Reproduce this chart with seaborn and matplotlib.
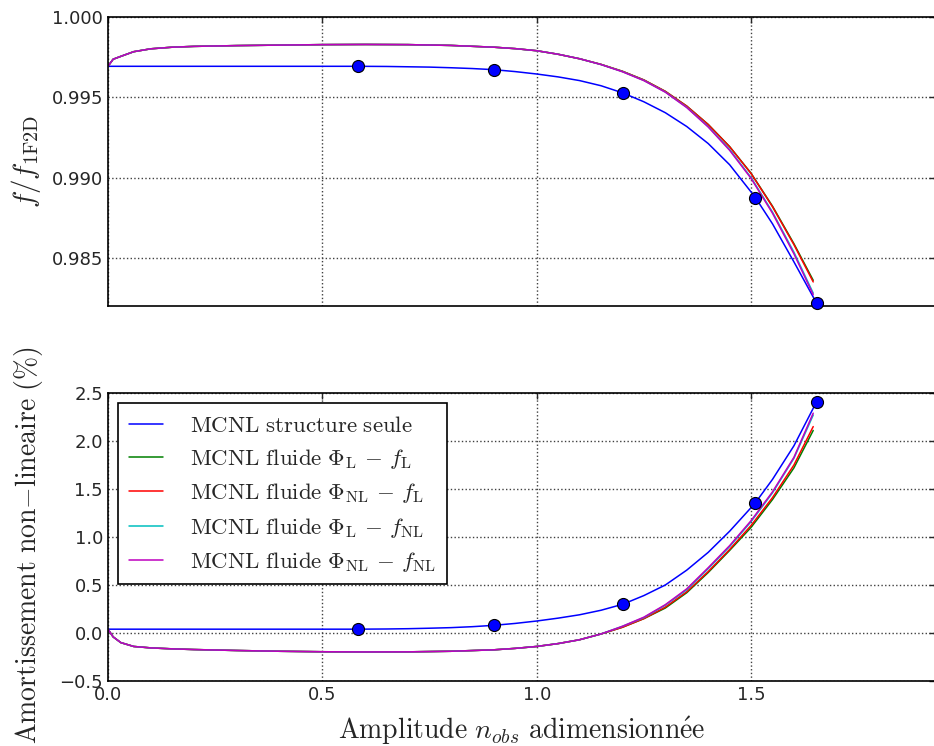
import numpy as np
import pandas as pd
import matplotlib
matplotlib.use('Agg')
import matplotlib.pyplot as plt
import seaborn as sns

sns.set_style('white')
plt.rcParams['font.family'] = ['DejaVu Sans']
plt.rcParams['mathtext.fontset'] = 'cm'
plt.rcParams['axes.linewidth'] = 1.2
plt.rcParams['xtick.direction'] = 'in'
plt.rcParams['ytick.direction'] = 'in'
plt.rcParams['xtick.top'] = True
plt.rcParams['ytick.right'] = True
plt.rcParams['xtick.major.size'] = 4
plt.rcParams['ytick.major.size'] = 4

# --- data ---
# structure seule (blue)
x_struct = [0, 0.1, 0.2, 0.3, 0.4, 0.5, 0.583, 0.65, 0.7, 0.75, 0.8, 0.85,
            0.9, 0.95, 1.0, 1.05, 1.1, 1.15, 1.201, 1.25, 1.3, 1.35, 1.4,
            1.45, 1.509, 1.55, 1.6, 1.653]
freq_struct = [0.99693, 0.99693, 0.99693, 0.99693, 0.99693, 0.99693, 0.99693,
               0.99692, 0.99690, 0.99688, 0.99684, 0.99679, 0.99672, 0.99660,
               0.99645, 0.99627, 0.99604, 0.99572, 0.99527, 0.99472, 0.99404,
               0.99318, 0.99212, 0.99080, 0.98880, 0.98712, 0.98475, 0.98217]
damp_struct = [0.04, 0.04, 0.04, 0.04, 0.04, 0.04, 0.04,
               0.042, 0.045, 0.05, 0.056, 0.066, 0.08, 0.10,
               0.125, 0.155, 0.19, 0.237, 0.30, 0.39, 0.50,
               0.655, 0.84, 1.06, 1.35, 1.60, 1.95, 2.41]

# markers on structure curve
x_pts = [0.583, 0.900, 1.201, 1.509, 1.653]
freq_pts = [0.99693, 0.99670, 0.99527, 0.98872, 0.98217]
damp_pts = [0.04, 0.08, 0.30, 1.35, 2.41]

# fluid models
x_fluid = [0, 0.012, 0.03, 0.06, 0.1, 0.15, 0.2, 0.3, 0.4, 0.5, 0.6, 0.7,
           0.8, 0.9, 0.95, 1.0, 1.05, 1.1, 1.15, 1.2, 1.25, 1.3, 1.35, 1.4,
           1.45, 1.5, 1.55, 1.6, 1.645]
freq_L_L = [0.99693, 0.99737, 0.99755, 0.99784, 0.99802, 0.99812, 0.99817,
            0.99822, 0.99825, 0.99828, 0.99829, 0.99828, 0.99823, 0.99812,
            0.99803, 0.99790, 0.99768, 0.99740, 0.99705, 0.99662, 0.99608,
            0.99537, 0.99445, 0.99331, 0.99193, 0.99027, 0.98822, 0.98588,
            0.98360]
freq_NL_L = [0.99693, 0.99737, 0.99755, 0.99784, 0.99802, 0.99812, 0.99817,
             0.99822, 0.99825, 0.99828, 0.99829, 0.99828, 0.99823, 0.99812,
             0.99803, 0.99790, 0.99768, 0.99740, 0.99705, 0.99662, 0.99608,
             0.99537, 0.99445, 0.99330, 0.99192, 0.99025, 0.98818, 0.98582,
             0.98350]
freq_L_NL = [0.99693, 0.99737, 0.99755, 0.99784, 0.99802, 0.99812, 0.99817,
             0.99822, 0.99825, 0.99828, 0.99829, 0.99828, 0.99823, 0.99812,
             0.99803, 0.99790, 0.99768, 0.99740, 0.99704, 0.99660, 0.99605,
             0.99533, 0.99438, 0.99318, 0.99175, 0.99000, 0.98785, 0.98535,
             0.98280]
freq_NL_NL = [0.99693, 0.99737, 0.99755, 0.99784, 0.99802, 0.99812, 0.99817,
              0.99822, 0.99825, 0.99828, 0.99829, 0.99828, 0.99823, 0.99812,
              0.99803, 0.99790, 0.99768, 0.99740, 0.99704, 0.99659, 0.99604,
              0.99532, 0.99436, 0.99315, 0.99170, 0.98995, 0.98778, 0.98525,
              0.98270]

damp_L_L = [0.04, -0.04, -0.10, -0.14, -0.155, -0.165, -0.172, -0.182,
            -0.19, -0.195, -0.197, -0.196, -0.19, -0.175, -0.16, -0.14,
            -0.11, -0.07, -0.01, 0.06, 0.15, 0.26, 0.42, 0.63, 0.86, 1.10,
            1.39, 1.72, 2.11]
damp_NL_L = [0.04, -0.04, -0.10, -0.14, -0.155, -0.165, -0.172, -0.182,
             -0.19, -0.195, -0.197, -0.196, -0.19, -0.175, -0.16, -0.14,
             -0.11, -0.07, -0.01, 0.06, 0.15, 0.27, 0.43, 0.64, 0.87, 1.12,
             1.41, 1.75, 2.15]
damp_L_NL = [0.04, -0.04, -0.10, -0.14, -0.155, -0.165, -0.172, -0.182,
             -0.19, -0.195, -0.197, -0.196, -0.19, -0.175, -0.16, -0.14,
             -0.11, -0.07, -0.01, 0.07, 0.16, 0.29, 0.45, 0.67, 0.90, 1.16,
             1.46, 1.82, 2.27]
damp_NL_NL = [0.04, -0.04, -0.10, -0.14, -0.155, -0.165, -0.172, -0.182,
              -0.19, -0.195, -0.197, -0.196, -0.19, -0.175, -0.16, -0.14,
              -0.11, -0.07, -0.01, 0.07, 0.165, 0.295, 0.46, 0.68, 0.91, 1.17,
              1.47, 1.83, 2.29]

labels = [
    r'$\mathrm{MCNL\ structure\ seule}$',
    r'$\mathrm{MCNL\ fluide}\ \Phi_{\mathrm{L}}\,-\,f_{\mathrm{L}}$',
    r'$\mathrm{MCNL\ fluide}\ \Phi_{\mathrm{NL}}\,-\,f_{\mathrm{L}}$',
    r'$\mathrm{MCNL\ fluide}\ \Phi_{\mathrm{L}}\,-\,f_{\mathrm{NL}}$',
    r'$\mathrm{MCNL\ fluide}\ \Phi_{\mathrm{NL}}\,-\,f_{\mathrm{NL}}$',
]
colors = ['#0000ff', '#008000', '#ff0000', '#00bfbf', '#bf00bf']

freq_fluid = [freq_L_L, freq_NL_L, freq_L_NL, freq_NL_NL]
damp_fluid = [damp_L_L, damp_NL_L, damp_L_NL, damp_NL_NL]

fig = plt.figure(figsize=(9.34, 7.46), dpi=100)
ax1 = fig.add_axes([0.1156, 0.5898, 0.8859, 0.3874])
ax2 = fig.add_axes([0.1156, 0.0871, 0.8859, 0.3861])

x_right = 1.930

for ax, ys, yf, yp in [(ax1, freq_struct, freq_fluid, freq_pts),
                       (ax2, damp_struct, damp_fluid, damp_pts)]:
    sns.lineplot(x=x_struct, y=ys, ax=ax, color=colors[0], lw=1.1,
                 label=labels[0], sort=False, estimator=None)
    for vals, c, lab in zip(yf, colors[1:], labels[1:]):
        sns.lineplot(x=x_fluid, y=vals, ax=ax, color=c, lw=1.1,
                     label=lab, sort=False, estimator=None)
    sns.scatterplot(x=x_pts, y=yp, ax=ax, color='#0000ff', s=75,
                    edgecolor='black', linewidth=0.8, zorder=5,
                    clip_on=False)
    ax.set_xlim(0, x_right)
    ax.set_xticks([0.0, 0.5, 1.0, 1.5])
    ax.grid(True, color='0.25', linestyle=':', linewidth=1.0)
    ax.tick_params(labelsize=13, width=1.0)
    for sp in ax.spines.values():
        sp.set_color('black')

ax1.set_ylim(0.982, 1.000)
ax1.set_yticks([0.985, 0.990, 0.995, 1.000])
ax1.set_yticklabels(['0.985', '0.990', '0.995', '1.000'])
ax1.set_xticklabels([])
ax1.legend_.remove()
ax1.set_ylabel(r'$f/f_{\mathrm{1F2D}}$', fontsize=21)
ax1.yaxis.set_label_coords(-0.079, 0.5)

ax2.set_ylim(-0.5, 2.5)
ax2.set_yticks([-0.5, 0.0, 0.5, 1.0, 1.5, 2.0, 2.5])
ax2.set_yticklabels(['\u22120.5', '0.0', '0.5', '1.0', '1.5', '2.0', '2.5'])
ax2.set_xticklabels(['0.0', '0.5', '1.0', '1.5'])
ax2.set_xlabel(r'$\mathrm{Amplitude}\ n_{obs}\ \mathrm{adimensionn\acute{e}e}$',
               fontsize=20)
ax2.xaxis.set_label_coords(0.5, -0.115)
ax2.set_ylabel(r'$\mathrm{Amortissement\ non}{-}\mathrm{lineaire\ (\%)}$',
               fontsize=20)
ax2.yaxis.set_label_coords(-0.076, 0.472)

leg = ax2.legend(loc='upper left', fontsize=16.5, frameon=True, fancybox=False,
                 framealpha=1.0, handlelength=1.5, handletextpad=1.2,
                 borderpad=0.45, labelspacing=0.45, borderaxespad=0.45)
leg.get_frame().set_edgecolor('black')
leg.get_frame().set_linewidth(1.2)

plt.savefig('out.png', dpi=100)
